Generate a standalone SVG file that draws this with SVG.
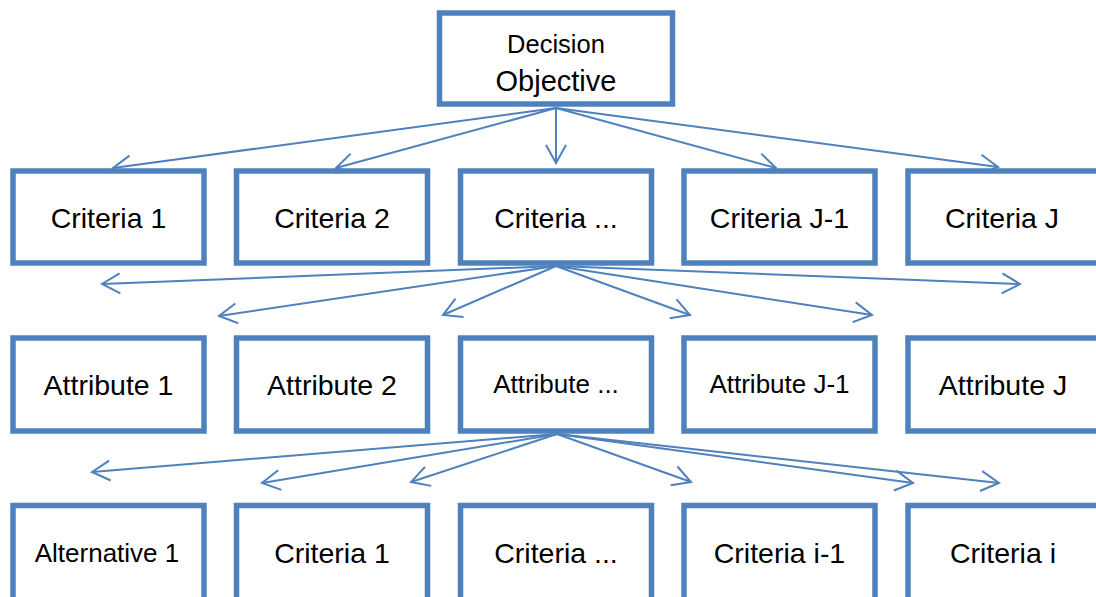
<svg xmlns="http://www.w3.org/2000/svg" width="1096" height="597" viewBox="0 0 1096 597">
<style>
.box{fill:#fff;stroke:#4F81BD;stroke-width:5.5}
.lbl{font-family:"Liberation Sans",Arial,sans-serif;font-size:28.5px;fill:#000;text-anchor:middle}
.sm{font-size:26px}
.con{fill:none;stroke:#4F81BD;stroke-width:2;marker-end:url(#ah)}
</style>
<defs>
<marker id="ah" viewBox="-20 -12 22 24" refX="0" refY="0" markerWidth="22" markerHeight="24" markerUnits="userSpaceOnUse" orient="auto">
<path d="M-18,-10 L0,0 L-18,10" fill="none" stroke="#4F81BD" stroke-width="2"/>
</marker>
</defs>
<rect width="1096" height="597" fill="#fff"/>
<g id="connectors">
<line class="con" x1="556" y1="108" x2="113" y2="168"/>
<line class="con" x1="556" y1="108" x2="336" y2="168"/>
<line class="con" x1="556" y1="108" x2="556" y2="163"/>
<line class="con" x1="556" y1="108" x2="776" y2="168"/>
<line class="con" x1="556" y1="108" x2="998" y2="167"/>
<line class="con" x1="556" y1="266" x2="102" y2="284"/>
<line class="con" x1="556" y1="266" x2="219" y2="316"/>
<line class="con" x1="556" y1="266" x2="443" y2="315"/>
<line class="con" x1="556" y1="266" x2="690" y2="315"/>
<line class="con" x1="556" y1="266" x2="872" y2="315"/>
<line class="con" x1="556" y1="266" x2="1020" y2="284"/>
<line class="con" x1="557" y1="434" x2="92" y2="472"/>
<line class="con" x1="557" y1="434" x2="262" y2="483"/>
<line class="con" x1="557" y1="434" x2="411" y2="482"/>
<line class="con" x1="557" y1="434" x2="691" y2="482"/>
<line class="con" x1="557" y1="434" x2="913" y2="483"/>
<line class="con" x1="557" y1="434" x2="999" y2="483"/>
</g>
<g id="decision-objective">
<rect class="box" x="439.5" y="13" width="233" height="91"/>
<text class="lbl" x="556" y="53" style="font-size:25.5px">Decision</text>
<text class="lbl" x="556" y="91" style="font-size:29px">Objective</text>
</g>
<g id="criteria-1"><rect class="box" x="13" y="171" width="191" height="92"/><text class="lbl" x="108.5" y="228">Criteria 1</text></g>
<g id="criteria-2"><rect class="box" x="236.5" y="171" width="191" height="92"/><text class="lbl" x="332" y="228">Criteria 2</text></g>
<g id="criteria-dots"><rect class="box" x="460.5" y="171" width="191" height="92"/><text class="lbl" x="556" y="228">Criteria ...</text></g>
<g id="criteria-j-1"><rect class="box" x="684" y="171" width="191" height="92"/><text class="lbl" x="779.5" y="228">Criteria J-1</text></g>
<g id="criteria-j"><rect class="box" x="908" y="171" width="191" height="92"/><text class="lbl" x="1002" y="228">Criteria J</text></g>
<g id="attribute-1"><rect class="box" x="13" y="338" width="191" height="93"/><text class="lbl" x="108.5" y="395">Attribute 1</text></g>
<g id="attribute-2"><rect class="box" x="236.5" y="338" width="191" height="93"/><text class="lbl" x="332" y="395">Attribute 2</text></g>
<g id="attribute-dots"><rect class="box" x="460.5" y="338" width="191" height="93"/><text class="lbl sm" x="556" y="393">Attribute ...</text></g>
<g id="attribute-j-1"><rect class="box" x="684" y="338" width="191" height="93"/><text class="lbl sm" x="779.5" y="393">Attribute J-1</text></g>
<g id="attribute-j"><rect class="box" x="908" y="338" width="191" height="93"/><text class="lbl" x="1003" y="395">Attribute J</text></g>
<g id="alternative-1"><rect class="box" x="13" y="505.5" width="191" height="97"/><text class="lbl sm" x="107" y="562">Alternative 1</text></g>
<g id="alt-criteria-1"><rect class="box" x="236.5" y="505.5" width="191" height="97"/><text class="lbl" x="332" y="563">Criteria 1</text></g>
<g id="alt-criteria-dots"><rect class="box" x="460.5" y="505.5" width="191" height="97"/><text class="lbl" x="556" y="563">Criteria ...</text></g>
<g id="alt-criteria-i-1"><rect class="box" x="684" y="505.5" width="191" height="97"/><text class="lbl" x="779.5" y="563">Criteria i-1</text></g>
<g id="alt-criteria-i"><rect class="box" x="908" y="505.5" width="191" height="97"/><text class="lbl" x="1003" y="563">Criteria i</text></g>
</svg>
